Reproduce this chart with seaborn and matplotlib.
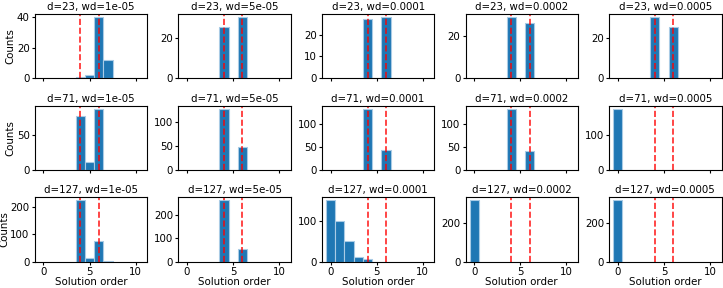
import matplotlib
matplotlib.use("Agg")
import matplotlib.pyplot as plt
import seaborn as sns

plt.rcParams["font.size"] = 7.4
plt.rcParams["axes.titlesize"] = 7.4

dims = [23, 71, 127]
wds = ["1e-05", "5e-05", "0.0001", "0.0002", "0.0005"]

# (solution orders, counts) per panel
d23_orders = [[4, 5, 6, 7], [4, 6], [4, 6], [4, 6], [4, 6]]
d23_counts = [[1, 2, 40, 12], [25, 30], [27, 28], [29, 26], [30, 25]]

d71_orders = [[4, 5, 6], [4, 6], [4, 6], [4, 6], [0]]
d71_counts = [[77, 11, 87], [127, 48], [132, 43], [133, 42], [175]]

d127_orders = [[4, 5, 6, 7], [4, 6], [0, 1, 2, 3, 4], [0], [0]]
d127_counts = [[222, 14, 75, 2], [260, 55], [150, 100, 50, 10, 5], [315], [315]]

orders = [d23_orders, d71_orders, d127_orders]
counts = [d23_counts, d71_counts, d127_counts]
target_orders = [4, 6]

fig, axes = plt.subplots(3, 5, figsize=(7.23, 2.88), dpi=100, sharex=True)
fig.subplots_adjust(left=0.048, right=0.998, top=0.951, bottom=0.092,
                    wspace=0.277, hspace=0.43)

for i, d in enumerate(dims):
    for j, wd in enumerate(wds):
        ax = axes[i, j]
        sns.histplot(x=orders[i][j], weights=counts[i][j], discrete=True,
                     color="#1f77b4", alpha=1, edgecolor="#a9cbe5",
                     linewidth=0.8, ax=ax)
        for t in target_orders:
            ax.axvline(t, color="red", ls="--", lw=1.2, alpha=0.85)
        ax.set_title(f"d={d}, wd={wd}", pad=3)
        ax.set_xlim(-0.95, 11.25)
        ax.tick_params(length=2.5, pad=1.2)
        ax.set_ylabel("Counts" if j == 0 else "", labelpad=1)
        ax.set_xlabel("Solution order" if i == 2 else "", labelpad=0.5)

fig.savefig("out.png", dpi=100)
